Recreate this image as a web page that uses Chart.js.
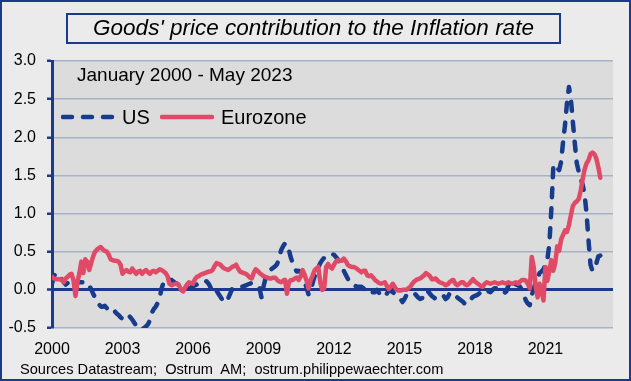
<!DOCTYPE html>
<html><head><meta charset="utf-8">
<script src="https://cdn.jsdelivr.net/npm/chart.js@4.4.0/dist/chart.umd.min.js"></script>
<style>
html,body{margin:0;padding:0;background:#ebebeb;}
#wrap{position:relative;width:631px;height:381px;overflow:hidden;font-family:"Liberation Sans",Arial,sans-serif;color:#000;}
canvas{position:absolute;left:0;top:0;}
.t{position:absolute;white-space:nowrap;}
#title{left:66px;top:13px;width:495px;height:31px;border:2.5px solid #1b3a8a;box-sizing:border-box;font-style:italic;font-size:22.5px;text-align:center;line-height:26px;}
#sub{left:77px;top:64px;font-size:19px;}
#leg{left:61px;top:104px;font-size:20px;height:26px;}
#foot{left:20px;top:361px;font-size:14.6px;}
</style></head>
<body>
<div id="wrap">
<canvas id="c" width="631" height="381"></canvas>
<div class="t" id="title">Goods' price contribution to the Inflation rate</div>
<div class="t" id="sub">January 2000 - May 2023</div>
<div class="t" id="leg">
<svg width="56" height="26" style="position:absolute;left:0;top:0"><line x1="2" y1="13" x2="54" y2="13" stroke="#173c8c" stroke-width="4.5" stroke-linecap="round" stroke-dasharray="9 11"/></svg>
<span style="position:absolute;left:61px;top:0;line-height:26px">US</span>
<svg width="56" height="26" style="position:absolute;left:99px;top:0"><line x1="2" y1="13" x2="52" y2="13" stroke="#e04a66" stroke-width="4.5" stroke-linecap="round"/></svg>
<span style="position:absolute;left:160px;top:0;line-height:26px">Eurozone</span>
</div>
<div class="t" id="foot">Sources Datastream;&nbsp; Ostrum&nbsp; AM;&nbsp; ostrum.philippewaechter.com</div>
</div>
<script>
// Monthly values, January 2000 - May 2023
const usValues = [
0.08,0.18,0.22,0.20,0.18,0.14,0.10,0.07,0.09,0.12,0.10,0.05,
0.07,0.09,0.10,0.10,0.10,0.10,0.10,0.05,0.01,-0.05,-0.10,-0.14,
-0.19,-0.22,-0.22,-0.21,-0.24,-0.27,-0.26,-0.25,-0.28,-0.31,-0.33,-0.36,
-0.38,-0.36,-0.33,-0.33,-0.36,-0.39,-0.43,-0.47,-0.50,-0.52,-0.52,-0.50,
-0.48,-0.45,-0.40,-0.30,-0.25,-0.22,-0.17,-0.10,0.02,0.10,0.12,0.13,
0.14,0.13,0.11,0.09,0.08,0.06,0.05,0.03,0.02,0.02,0.02,0.03,
0.05,0.06,0.07,0.08,0.08,0.10,0.12,0.11,0.08,0.03,-0.04,0.00,
-0.01,-0.05,-0.09,-0.13,-0.16,-0.16,-0.11,-0.05,0.01,0.02,0.02,0.02,
0.03,0.04,0.05,0.06,0.07,0.08,0.09,0.09,0.06,0.04,0.02,-0.10,
0.04,0.15,0.19,0.23,0.27,0.29,0.31,0.34,0.42,0.52,0.57,0.61,
0.60,0.52,0.42,0.35,0.28,0.24,0.25,0.23,0.17,0.10,0.03,-0.06,
-0.03,0.08,0.17,0.23,0.29,0.35,0.39,0.42,0.44,0.45,0.47,0.47,
0.46,0.43,0.40,0.36,0.31,0.25,0.20,0.15,0.10,0.07,0.06,0.05,
0.04,0.04,0.04,0.02,0.00,-0.04,-0.04,-0.03,-0.03,-0.03,0.00,-0.04,
-0.07,-0.03,-0.04,-0.05,-0.01,-0.01,-0.03,-0.05,-0.07,-0.09,-0.12,-0.16,
-0.12,-0.07,-0.06,-0.05,-0.04,-0.04,-0.07,-0.10,-0.12,-0.11,-0.06,-0.01,
-0.02,-0.05,-0.08,-0.10,-0.12,-0.12,-0.12,-0.09,-0.08,-0.12,-0.10,-0.05,
-0.04,-0.04,-0.08,-0.10,-0.12,-0.14,-0.16,-0.19,-0.18,-0.14,-0.12,-0.09,
-0.08,-0.07,-0.05,-0.03,-0.03,-0.04,-0.05,-0.02,-0.03,0.00,0.02,0.02,
0.02,0.01,-0.01,-0.04,-0.02,0.05,0.12,0.14,0.09,0.07,0.06,0.04,
0.00,-0.07,-0.14,-0.18,-0.20,-0.07,0.01,0.10,0.16,0.22,0.24,0.27,
0.33,0.40,0.60,1.05,1.60,1.65,1.60,1.57,1.68,1.94,2.16,2.45,
2.66,2.50,2.20,1.92,1.66,1.55,1.46,1.38,1.25,1.00,0.65,0.33,
0.25,0.27,0.35,0.44,0.45
];
const eurozoneValues = [
0.17,0.15,0.14,0.14,0.14,0.13,0.10,0.15,0.17,0.20,0.21,0.12,
-0.08,0.10,0.22,0.37,0.22,0.40,0.37,0.26,0.35,0.44,0.50,0.53,
0.55,0.56,0.53,0.51,0.50,0.46,0.40,0.39,0.38,0.38,0.37,0.33,
0.21,0.24,0.26,0.24,0.23,0.28,0.24,0.21,0.24,0.25,0.21,0.24,
0.26,0.23,0.21,0.24,0.25,0.23,0.25,0.27,0.26,0.24,0.22,0.18,
0.08,0.06,0.07,0.08,0.08,0.05,0.00,-0.02,0.03,0.07,0.10,0.09,
0.08,0.14,0.17,0.18,0.20,0.21,0.22,0.23,0.24,0.24,0.26,0.31,
0.35,0.34,0.33,0.30,0.28,0.27,0.26,0.28,0.30,0.31,0.33,0.28,
0.24,0.23,0.22,0.21,0.19,0.16,0.15,0.22,0.27,0.25,0.22,0.20,
0.18,0.17,0.16,0.15,0.15,0.16,0.16,0.13,0.11,0.10,0.12,0.13,
-0.05,0.10,0.13,0.13,0.15,0.16,0.13,0.18,0.26,0.20,0.12,0.02,
0.12,0.18,0.25,0.28,0.30,0.10,0.00,0.02,0.30,0.34,0.30,0.28,
0.33,0.37,0.39,0.38,0.38,0.41,0.38,0.33,0.31,0.30,0.30,0.29,
0.27,0.25,0.23,0.25,0.25,0.19,0.18,0.19,0.16,0.13,0.11,0.09,
0.08,0.09,0.10,0.05,0.01,0.04,0.08,0.04,0.00,-0.01,-0.01,0.00,
0.00,0.00,0.02,0.04,0.08,0.11,0.13,0.14,0.15,0.17,0.19,0.22,
0.20,0.18,0.14,0.14,0.15,0.12,0.10,0.09,0.08,0.06,0.07,0.10,
0.12,0.13,0.08,0.06,0.08,0.10,0.10,0.07,0.06,0.08,0.11,0.14,
0.11,0.09,0.07,0.05,0.04,0.08,0.10,0.09,0.08,0.09,0.10,0.09,
0.08,0.09,0.10,0.09,0.08,0.10,0.09,0.08,0.09,0.10,0.08,0.11,
0.13,0.13,0.12,0.08,0.02,0.43,0.30,0.05,-0.10,0.08,-0.02,-0.14,
0.30,0.12,0.25,0.39,0.25,0.35,0.57,0.51,0.66,0.72,0.78,0.76,
0.85,0.98,1.10,1.14,1.16,1.19,1.30,1.45,1.58,1.66,1.70,1.78,
1.80,1.78,1.72,1.61,1.47
];
const yearLabels = ['2000','2003','2006','2009','2012','2015','2018','2021'];
const yTicks = [-0.5,0.0,0.5,1.0,1.5,2.0,2.5,3.0];

const BLUE = '#173c8c', RED = '#e04a66', GRID = '#a6b2c9', AXIS = '#1b3a8a';

const bgPlugin = {
  id: 'bg',
  beforeDraw(chart) {
    const {ctx, chartArea: a} = chart;
    ctx.save();
    ctx.fillStyle = '#ebebeb';
    ctx.fillRect(0, 0, chart.width, chart.height);
    ctx.fillStyle = '#dcdcdc';
    ctx.fillRect(a.left, a.top, a.right - a.left, a.bottom - a.top);
    ctx.restore();
  },
  afterDraw(chart) {
    const ctx = chart.ctx;
    ctx.save();
    ctx.strokeStyle = AXIS;
    ctx.lineWidth = 2;
    ctx.strokeRect(1, 1, chart.width - 2, chart.height - 2);
    ctx.restore();
  }
};

Chart.defaults.font.family = '"Liberation Sans", Arial, sans-serif';
Chart.defaults.color = '#000';

new Chart(document.getElementById('c'), {
  type: 'line',
  data: {
    datasets: [
      { label: 'US', order: 1, data: usValues.map((v, i) => ({x: i, y: v})),
        borderColor: BLUE, borderWidth: 4.5, borderDash: [9, 11], borderCapStyle: 'round',
        borderJoinStyle: 'round', pointRadius: 0, tension: 0, fill: false },
      { label: 'Eurozone', order: 0, data: eurozoneValues.map((v, i) => ({x: i, y: v})),
        borderColor: RED, borderWidth: 4.5, borderCapStyle: 'round',
        borderJoinStyle: 'round', pointRadius: 0, tension: 0, fill: false }
    ]
  },
  options: {
    responsive: false,
    animation: false,
    devicePixelRatio: 1,
    layout: { padding: { left: 0, right: 18, top: 61, bottom: 0 } },
    plugins: { legend: { display: false }, tooltip: { enabled: false }, title: { display: false } },
    scales: {
      x: {
        type: 'linear', min: 0, max: 286.5,
        grid: { display: false, drawTicks: false },
        border: { display: false },
        afterBuildTicks(scale) { scale.ticks = yearLabels.map((l, i) => ({value: i * 36})); },
        ticks: { autoSkip: false, maxRotation: 0, padding: 12, font: { size: 16 },
          callback: (v, i) => yearLabels[i] },
        afterFit(scale) { scale.height = 53; }
      },
      y: {
        min: -0.5, max: 3.0,
        afterBuildTicks(scale) { scale.ticks = yTicks.map(v => ({value: v})); },
        ticks: { padding: 11, font: { size: 16 }, callback: v => Number(v).toFixed(1) },
        grid: {
          color: c => (c.tick && c.tick.value === 0) ? AXIS : GRID,
          lineWidth: c => (c.tick && c.tick.value === 0) ? 3 : 1.5,
          tickColor: AXIS, tickLength: 5, tickWidth: 2.5
        },
        border: { display: true, color: AXIS, width: 3 },
        afterFit(scale) { scale.width = 52; }
      }
    }
  },
  plugins: [bgPlugin]
});
</script>
</body></html>
